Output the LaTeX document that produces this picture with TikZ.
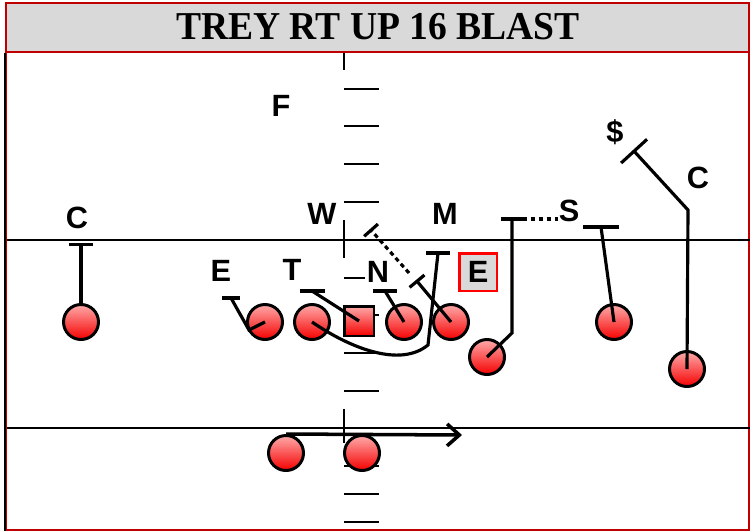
\documentclass[tikz,border=0pt]{standalone}
\usepackage{fontspec}
\setmainfont{Liberation Serif}
\setsansfont{Liberation Sans}
\usepackage{tikz}
\usetikzlibrary{arrows.meta}

\definecolor{frred}{RGB}{192,0,0}
\definecolor{ttlgray}{RGB}{217,217,217}
\definecolor{plrlt}{RGB}{255,170,170}
\definecolor{plrdk}{RGB}{245,0,0}

\begin{document}
\begin{tikzpicture}[x=0.02cm, y=-0.02cm,
  plr/.style={circle, draw, line width=1.7pt, minimum size=0.70cm, inner sep=0pt, top color=plrlt, bottom color=plrdk},
  ctr/.style={rectangle, draw, line width=1.7pt, minimum size=0.60cm, inner sep=0pt, top color=plrlt, bottom color=plrdk},
  lbl/.style={font=\sffamily\bfseries\fontsize{17.5}{17.5}\selectfont, inner sep=1pt},
  rt/.style={line width=1.8pt},
  dotrt/.style={line width=1.8pt, dash pattern=on 2.5pt off 2pt},
  fld/.style={line width=1pt},
  blk/.style={-{Bar[width=#1]}}]
  \useasboundingbox (0,0) rectangle (750,531);

  % Title bar
  \draw[frred, line width=1.4pt, fill=ttlgray] (6,3) rectangle (749,52);
  \node[font=\bfseries\fontsize{22.5}{22.5}\selectfont] (ttl) at (378,27) {\scalebox{0.95}[1]{TREY RT UP 16 BLAST}};
  \draw[frred, line width=0.8pt] (6,52) -- (6,530) -- (749,530) -- (749,52);
  \draw[line width=1.3pt] (5,53) -- (5,531);

  % Field
  \draw[fld] (7,240) -- (750,240);
  \draw[fld] (7,428) -- (750,428);
  \draw[fld] (344,53) -- (344,70);
  \draw[fld] (344,220) -- (344,258);
  \draw[fld] (344,409) -- (344,443);
  \foreach \y in {89,126,164,202,278,315,353,391,466,494,522}
    \draw[fld] (344,\y) -- (379,\y);

  % Offense
  \node[plr] (wrl) at (81,322) {};
  \node[plr] (le) at (265,322) {};
  \node[plr] (lt) at (312,322) {};
  \node[ctr] (ce) at (359,321) {};
  \node[plr] (rg) at (404,322) {};
  \node[plr] (rtk) at (451,322) {};
  \node[plr] (te) at (487,357) {};
  \node[plr] (slt) at (614,322) {};
  \node[plr] (wrr) at (687,369) {};
  \node[plr] (hb) at (286,453) {};
  \node[plr] (fb) at (362,453) {};

  % Route ends
  \coordinate (wrlx) at (81,243);
  \coordinate (lek) at (249,330);
  \coordinate (lex) at (231,298);
  \coordinate (ltk) at (428,345);
  \coordinate (ltx) at (438,253);
  \coordinate (cex) at (312,291);
  \coordinate (rgx) at (385,291);
  \coordinate (rtx) at (416,280);
  \coordinate (rtd) at (409,273);
  \coordinate (wx) at (370,229);
  \coordinate (tek) at (512,333);
  \coordinate (tex) at (512,219);
  \coordinate (tedx) at (558,219);
  \coordinate (sltx) at (601,227);
  \coordinate (wrrk) at (688,210);
  \coordinate (wrrx) at (633,150);
  \coordinate (motx) at (462,435);

  % Blocks
  \draw[rt, blk=13.6pt] (wrl.north) -- (wrlx);
  \draw[rt] (le.center) -- (lek) -- (lex);
  \draw[rt] (lex) ++(-9,0) -- ++(18,0);
  \draw[rt] (lt.center) .. controls (350,348) and (400,368) .. (ltk) -- (ltx);
  \draw[rt] (ltx) ++(-12,0) -- ++(24,0);
  \draw[rt] (ce.center) -- (cex);
  \draw[rt] (cex) ++(-12.5,0) -- ++(25,0);
  \draw[rt] (rg.center) -- (rgx);
  \draw[rt] (rgx) ++(-12,0) -- ++(24,0);
  \draw[rt, blk=11pt] (rtk.center) -- (rtx);
  \draw[dotrt, blk=10.5pt] (rtd) -- (wx);
  \draw[rt] (te.center) -- (tek) -- (tex);
  \draw[rt] (tex) ++(-11,0) -- ++(22,0);
  \draw[dotrt] (tex) ++(11,0) -- (tedx);
  \draw[rt] (slt.center) -- (sltx);
  \draw[rt] (sltx) ++(-18,0) -- ++(36,0);
  \draw[rt, blk=20pt] (wrr.center) -- (wrrk) -- (wrrx);

  % Motion
  \draw[line width=2pt, -{Straight Barb[length=7pt, width=12.5pt]}] (hb.north) -- (motx);

  % Defense
  \node[lbl] (lf) at (281,106) {F};
  \node[lbl] (lcl) at (77,218) {C};
  \node[lbl] (lw) at (322,214) {W};
  \node[lbl] (lm) at (445,214) {M};
  \node[lbl] (lel) at (221,271) {E};
  \node[lbl] (ltl) at (292,270) {T};
  \node[lbl, fill=white] (ln) at (378,272) {N};
  \node[lbl, draw=red, line width=1.7pt, fill=ttlgray, minimum size=0.76cm] (ler) at (478,272) {E};
  \node[lbl] (ls) at (569,211) {S};
  \node[lbl] (ld) at (615,132) {\$};
  \node[lbl] (lcr) at (698,178) {C};
\end{tikzpicture}
\end{document}
